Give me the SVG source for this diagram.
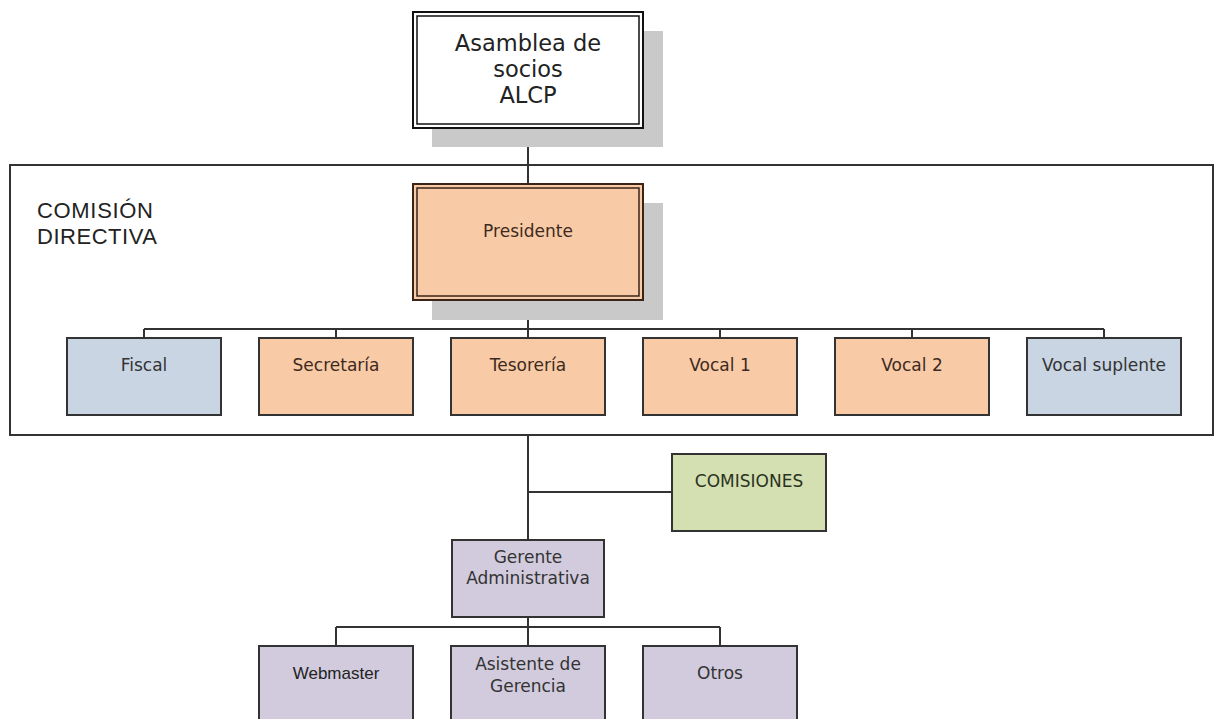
<svg xmlns="http://www.w3.org/2000/svg" width="1215" height="719" viewBox="0 0 1215 719">
<style>
.shadow{fill:#c9c9c9}
.box{stroke:#333;stroke-width:2}
.orange{fill:#f8cba6}
.blue{fill:#c9d5e3}
.green{fill:#d5e0b2}
.purple{fill:#d1cbdd}
.t{font-family:"DejaVu Sans",sans-serif;font-size:17px;text-anchor:middle;fill:#333}
.tb{fill:#3d2a1f}
.a{font-family:"Liberation Sans",Arial,sans-serif;text-anchor:middle;fill:#222}
.ln{stroke:#333;stroke-width:2;fill:none}
</style>
<rect x="0" y="0" width="1215" height="719" fill="#fff"/>
<g id="container">
<rect x="10" y="165" width="1203" height="270" fill="none" stroke="#333" stroke-width="2"/>
<text class="a" x="37" y="218" style="font-size:22px;text-anchor:start" textLength="116">COMISIÓN</text>
<text class="a" x="37" y="244" style="font-size:22px;text-anchor:start" textLength="120">DIRECTIVA</text>
</g>
<g id="connectors">
<path class="ln" d="M528 128 V184"/>
<path class="ln" d="M528 300 V338"/>
<path class="ln" d="M144 329 H1104 M144 329 V338 M336 329 V338 M720 329 V338 M912 329 V338 M1104 329 V338"/>
<path class="ln" d="M528 435 V540"/>
<path class="ln" d="M528 492 H672"/>
<path class="ln" d="M528 617 V646 M336 627 H720 M336 627 V646 M720 627 V646"/>
</g>
<g id="asamblea">
<rect class="shadow" x="432" y="31" width="231" height="116"/>
<rect x="413" y="12" width="230" height="116" fill="#fff" stroke="#111" stroke-width="2"/>
<rect x="417" y="16" width="222" height="108" fill="none" stroke="#111" stroke-width="1.5"/>
<text class="t" x="528" y="51" style="font-size:22.5px;fill:#222">Asamblea de</text>
<text class="t" x="528" y="77" style="font-size:22.5px;fill:#222">socios</text>
<text class="t" x="528" y="103" style="font-size:22.5px;fill:#222">ALCP</text>
</g>
<g id="presidente">
<rect class="shadow" x="432" y="203" width="231" height="117"/>
<rect x="413" y="184" width="230" height="116" class="orange" stroke="#3a2418" stroke-width="2"/>
<rect x="417" y="188" width="222" height="108" fill="none" stroke="#3a2418" stroke-width="1.5"/>
<text class="t tb" x="528" y="237">Presidente</text>
</g>
<g id="fiscal">
<rect class="box blue" x="67" y="338" width="154" height="77"/>
<text class="t" x="144" y="371">Fiscal</text>
</g>
<g id="secretaria">
<rect class="box orange" x="259" y="338" width="154" height="77"/>
<text class="t tb" x="336" y="371">Secretaría</text>
</g>
<g id="tesoreria">
<rect class="box orange" x="451" y="338" width="154" height="77"/>
<text class="t tb" x="528" y="371">Tesorería</text>
</g>
<g id="vocal1">
<rect class="box orange" x="643" y="338" width="154" height="77"/>
<text class="t tb" x="720" y="371">Vocal 1</text>
</g>
<g id="vocal2">
<rect class="box orange" x="835" y="338" width="154" height="77"/>
<text class="t tb" x="912" y="371">Vocal 2</text>
</g>
<g id="vocalsuplente">
<rect class="box blue" x="1027" y="338" width="154" height="77"/>
<text class="t" x="1104" y="371">Vocal suplente</text>
</g>
<g id="comisiones">
<rect class="box green" x="672" y="454" width="154" height="77"/>
<text class="t" x="749" y="487" style="fill:#2a3320">COMISIONES</text>
</g>
<g id="gerente">
<rect class="box purple" x="452" y="540" width="152" height="77"/>
<text class="t" x="528" y="563">Gerente</text>
<text class="t" x="528" y="584">Administrativa</text>
</g>
<g id="webmaster">
<rect class="box purple" x="259" y="646" width="154" height="80"/>
<text class="a" x="336" y="679" style="font-size:17px">Webmaster</text>
</g>
<g id="asistente">
<rect class="box purple" x="451" y="646" width="154" height="80"/>
<text class="t" x="528" y="670">Asistente de</text>
<text class="t" x="528" y="692">Gerencia</text>
</g>
<g id="otros">
<rect class="box purple" x="643" y="646" width="154" height="80"/>
<text class="t" x="720" y="679">Otros</text>
</g>
</svg>
